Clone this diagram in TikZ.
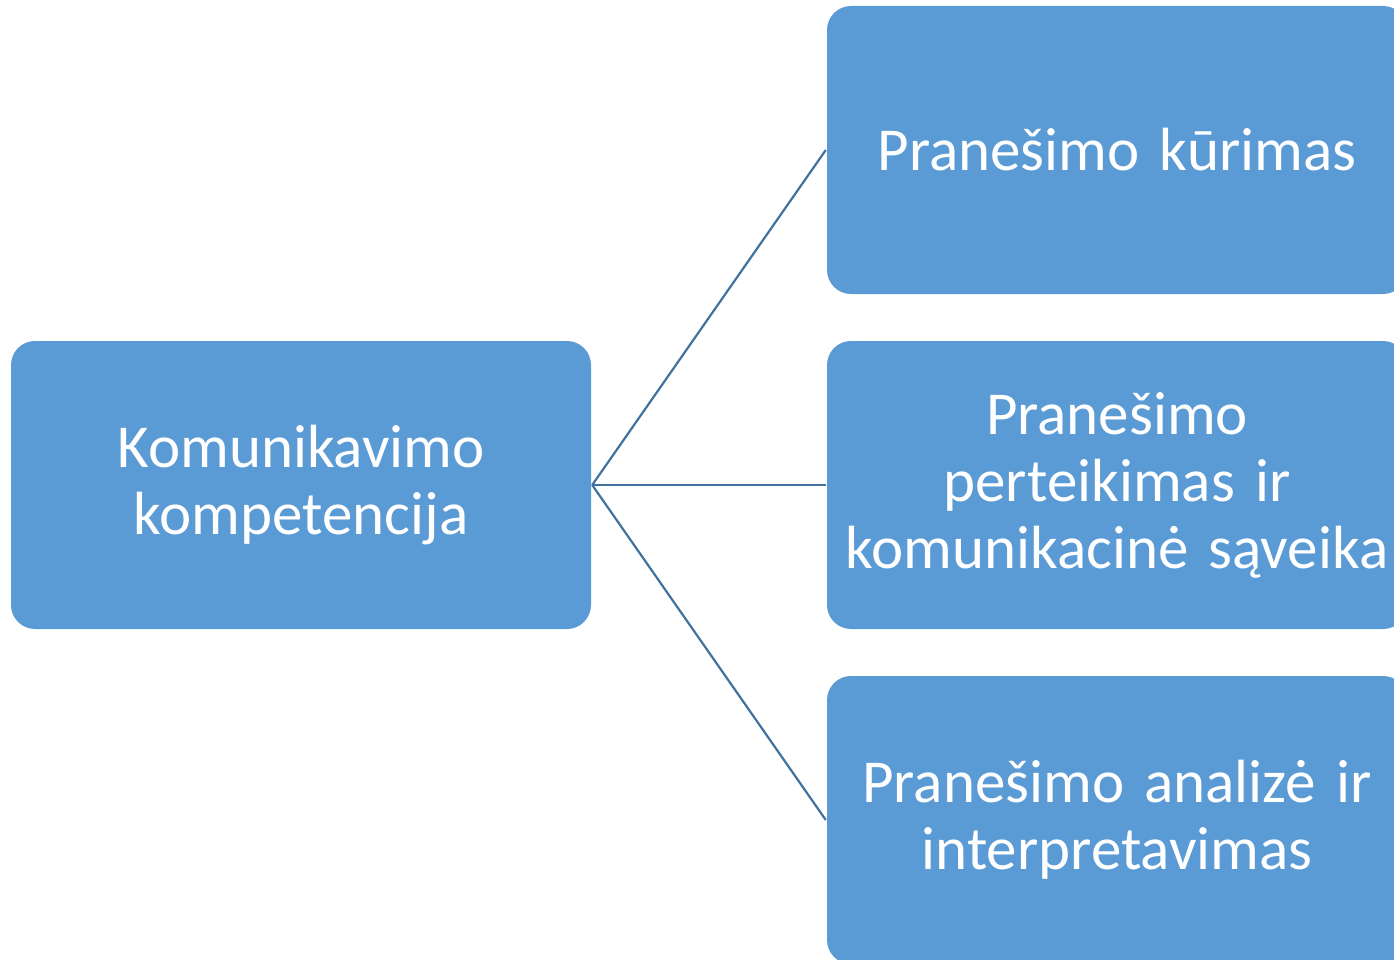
\documentclass[tikz,border=0pt]{standalone}
\usepackage{fontspec}
\setmainfont{Carlito}
\definecolor{boxblue}{HTML}{5B9BD5}
\definecolor{lineblue}{HTML}{41719C}
\begin{document}
\begin{tikzpicture}[x=1pt,y=-1pt,
  box/.style={fill=boxblue, draw=none, rounded corners=24pt, minimum width=580pt, minimum height=288pt,
    text=white, align=center, text width=575pt, font=\fontsize{61}{67}\selectfont, inner sep=0pt},
  link/.style={draw=lineblue, line width=2.2pt}]
\useasboundingbox (0,0) rectangle (1394,960);
\node[box] (root) at (301,485) {Komunikavimo\\kompetencija};
\node[box] (a) at (1117,150) {Pranešimo kūrimas};
\node[box] (b) at (1117,485) {Pranešimo\\perteikimas ir\\komunikacinė sąveika};
\node[box] (c) at (1117,820) {Pranešimo analizė ir\\interpretavimas};
\draw[link] ([xshift=1pt]root.east) -- ([xshift=-1pt]a.west);
\draw[link] ([xshift=1pt]root.east) -- ([xshift=-1pt]b.west);
\draw[link] ([xshift=1pt]root.east) -- ([xshift=-1pt]c.west);
\end{tikzpicture}
\end{document}
